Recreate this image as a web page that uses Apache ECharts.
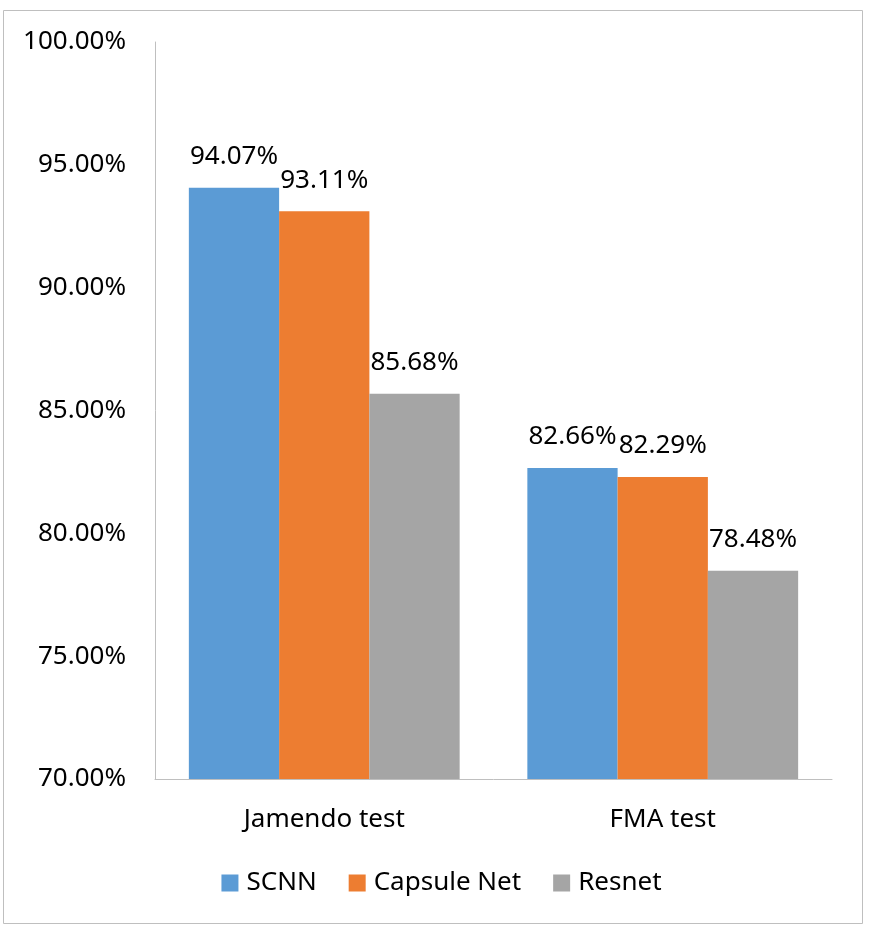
<!DOCTYPE html>
<html>
<head>
<meta charset="utf-8">
<script src="https://cdn.jsdelivr.net/npm/echarts@6/dist/echarts.min.js"></script>
<style>html,body{margin:0;padding:0;background:#fff;}#c{width:883px;height:926px;}</style>
</head>
<body>
<div id="c"></div>
<script>
const categories = ['Jamendo test', 'FMA test'];
const seriesNames = ['SCNN', 'Capsule Net', 'Resnet'];
const scnn = [94.07, 82.66];
const capsule = [93.11, 82.29];
const resnet = [85.68, 78.48];
const colors = ['#5B9BD5', '#ED7D31', '#A5A5A5'];
const FONT = '"Noto Sans", "Open Sans", sans-serif';
const FS = 26;

const chart = echarts.init(document.getElementById('c'));
const mk = (name, data, color) => ({
  name, type: 'bar', data, barGap: '0%', barCategoryGap: '20%',
  itemStyle: { color },
  label: { show: true, position: 'top', distance: 18, formatter: p => p.value.toFixed(2) + '%', color: '#000', fontSize: FS, fontFamily: FONT }
});
chart.setOption({
  animation: false,
  textStyle: { fontFamily: FONT },
  graphic: [{ type: 'rect', shape: { x: 3.5, y: 10.5, width: 859, height: 913 }, style: { fill: 'none', stroke: '#BFBFBF', lineWidth: 1 }, silent: true }],
  grid: { left: 155, right: 51, top: 42, bottom: 147, containLabel: false },
  legend: {
    bottom: 25, left: 'center', itemWidth: 17, itemHeight: 17, itemGap: 32, icon: 'rect',
    textStyle: { fontSize: FS, color: '#000', fontFamily: FONT, padding: [0, 0, 0, 3] },
    data: seriesNames
  },
  xAxis: {
    type: 'category', data: categories,
    axisLine: { lineStyle: { color: '#BFBFBF', width: 1 } },
    axisTick: { show: false },
    axisLabel: { fontSize: FS, color: '#000', margin: 28, fontFamily: FONT }
  },
  yAxis: {
    type: 'value', min: 70, max: 100, interval: 5,
    axisLine: { show: true, lineStyle: { color: '#BFBFBF', width: 1 } },
    axisTick: { show: false },
    splitLine: { show: false },
    axisLabel: { fontSize: FS, color: '#000', margin: 29, fontFamily: FONT, formatter: v => v.toFixed(2) + '%' }
  },
  series: [mk(seriesNames[0], scnn, colors[0]), mk(seriesNames[1], capsule, colors[1]), mk(seriesNames[2], resnet, colors[2])]
});
</script>
</body>
</html>
